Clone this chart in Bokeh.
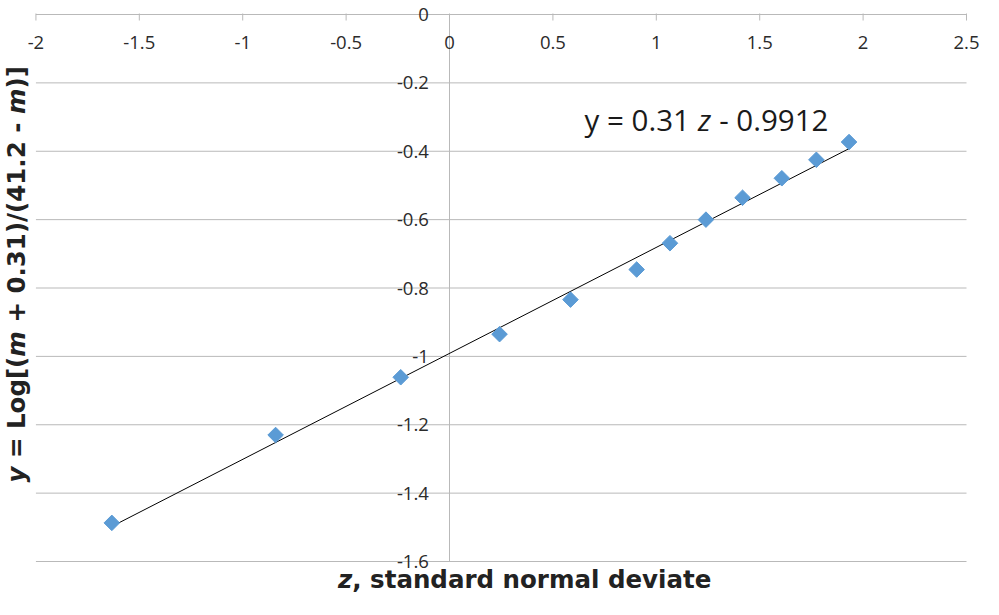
import math
from bokeh.plotting import figure
from bokeh.models import Range1d, Label
from bokeh.core.properties import value
from bokeh.embed import file_html
from bokeh.resources import INLINE

# ---------------- data ----------------
z_vals = [-1.633, -0.841, -0.236, 0.242, 0.585, 0.905, 1.066, 1.240, 1.417, 1.607, 1.774, 1.932]
y_vals = [-1.487, -1.230, -1.061, -0.935, -0.834, -0.746, -0.669, -0.600, -0.536, -0.479, -0.425, -0.373]

slope = 0.31
intercept = -0.9912

x_ticks = [-2, -1.5, -1, -0.5, 0, 0.5, 1, 1.5, 2, 2.5]
x_tick_labels = ["-2", "-1.5", "-1", "-0.5", "0", "0.5", "1", "1.5", "2", "2.5"]
y_ticks = [0, -0.2, -0.4, -0.6, -0.8, -1.0, -1.2, -1.4, -1.6]
y_tick_labels = ["0", "-0.2", "-0.4", "-0.6", "-0.8", "-1", "-1.2", "-1.4", "-1.6"]

eq_parts = ["y = 0.31", "z", "- 0.9912"]
x_title_parts = ["z", ", standard normal deviate"]
y_title_parts = ["y", "= Log[(", "m", "+ 0.31)/(41.2 -", "m", ")]"]

# ---------------- geometry ----------------
W, H = 983, 599
SX, SY = W / 999, H / 615          # reference pixels -> canvas pixels


def RX(rx):
    return rx * SX


def RY(ry):
    return ry * SY


XMIN_T, XMAX_T = -2.0, 2.5
YMIN_T, YMAX_T = -1.6, 0.0
F_LEFT, F_RIGHT = RX(36), 966.0     # canvas pixel of x=-2 and x=2.5
F_TOP, F_BOTTOM = 14.0, RY(576)      # canvas pixel of y=0 and y=-1.6
PX_X = (F_RIGHT - F_LEFT) / (XMAX_T - XMIN_T)
PX_Y = (F_BOTTOM - F_TOP) / (YMAX_T - YMIN_T)
X0 = XMIN_T - F_LEFT / PX_X
X1 = XMAX_T + (W - F_RIGHT) / PX_X
Y1 = YMAX_T + F_TOP / PX_Y
Y0 = YMIN_T - (H - F_BOTTOM) / PX_Y


def dx(fx):
    return X0 + fx / PX_X


def dy(fy):
    return Y1 - fy / PX_Y


p = figure(width=W, height=H, x_range=Range1d(X0, X1), y_range=Range1d(Y0, Y1),
           x_axis_location=None, y_axis_location=None, toolbar_location=None,
           output_backend="svg", min_border=0, outline_line_color=None,
           background_fill_color="white", border_fill_color="white")
p.grid.visible = False

GRID = "#b9b9b9"
TICK_COLOR = "#2b2b2b"
TICK_FS = "18.5px"

# horizontal gridlines
p.segment(x0=[XMIN_T] * len(y_ticks), x1=[XMAX_T] * len(y_ticks), y0=y_ticks, y1=y_ticks,
          line_color=GRID, line_width=1)
# vertical axis at x = 0
p.segment(x0=[0], x1=[0], y0=[YMIN_T], y1=[YMAX_T], line_color=GRID, line_width=1)
# x-axis tick marks (pointing down from the top axis line)
tick_len = 6 / PX_Y
p.segment(x0=x_ticks, x1=x_ticks, y0=[1 / PX_Y] * len(x_ticks), y1=[-tick_len] * len(x_ticks),
          line_color=GRID, line_width=1)

# x tick labels (below the top axis line)
p.text(x=x_ticks, y=[dy(F_TOP + 28)] * len(x_ticks), text=x_tick_labels,
       text_font=value("Open Sans"), text_font_size=TICK_FS, text_color=TICK_COLOR,
       text_align="center", text_baseline="middle")
# y tick labels (left of the x = 0 axis)
p.text(x=[-(RX(458) - RX(437)) / PX_X] * len(y_ticks), y=y_ticks, text=y_tick_labels,
       text_font=value("Open Sans"), text_font_size=TICK_FS, text_color=TICK_COLOR,
       text_align="right", text_baseline="middle")

# trend line
zl = [min(z_vals), max(z_vals)]
p.line(x=zl, y=[slope * v + intercept for v in zl], line_color="black", line_width=1)

# data points
p.scatter(x=z_vals, y=y_vals, marker="square", size=11, angle=math.pi / 4,
          fill_color="#5B9BD5", line_color="#5B9BD5")

# equation label (mixed styles)
EQ_FS = 29.5
z_c = RX(715.5)
mid = RY(122.5)
half_z = 0.47 * EQ_FS / 2
sp = 0.26 * EQ_FS
EQ_COLOR = "#1a1a1a"
p.add_layout(Label(x=dx(z_c - half_z - sp), y=dy(mid), text=eq_parts[0], text_font="Open Sans",
                   text_font_size=f"{EQ_FS}px", text_align="right", text_baseline="middle",
                   text_color=EQ_COLOR))
p.add_layout(Label(x=dx(z_c), y=dy(mid), text=eq_parts[1], text_font="Open Sans",
                   text_font_style="italic", text_font_size=f"{EQ_FS}px", text_align="center",
                   text_baseline="middle", text_color=EQ_COLOR))
p.add_layout(Label(x=dx(z_c + half_z + sp), y=dy(mid), text=eq_parts[2], text_font="Open Sans",
                   text_font_size=f"{EQ_FS}px", text_align="left", text_baseline="middle",
                   text_color=EQ_COLOR))

# x-axis title
TF = 24.5
TITLE_COLOR = "#222222"
xb = RX(343) + 0.582 * TF
xt_mid = RY(603) - 0.35 * TF
p.add_layout(Label(x=dx(xb), y=dy(xt_mid), text=x_title_parts[0], text_font="DejaVu Sans",
                   text_font_style="bold italic", text_font_size=f"{TF}px", text_align="right",
                   text_baseline="middle", text_color=TITLE_COLOR))
p.add_layout(Label(x=dx(xb), y=dy(xt_mid), text=x_title_parts[1], text_font="DejaVu Sans",
                   text_font_style="bold", text_font_size=f"{TF}px", text_align="left",
                   text_baseline="middle", text_color=TITLE_COLOR))

# y-axis title (rotated, mixed styles) - DejaVu Sans Bold advance widths (em)
space_em = 0.348
widths_em = [0.652, 4.142, 1.042, 8.168, 1.042, 0.916]
gaps_em = [space_em, 0.0, space_em, space_em, 0.0]
styles = ["bold italic", "bold", "bold italic", "bold", "bold italic", "bold"]
start_fy = RY(495)
mid_fx = 16.0
s = 0.0
for i, txt in enumerate(y_title_parts):
    p.add_layout(Label(x=dx(mid_fx), y=dy(start_fy - s), text=txt, angle=math.pi / 2,
                       text_font="DejaVu Sans", text_font_style=styles[i],
                       text_font_size=f"{TF}px", text_align="left",
                       text_baseline="middle", text_color=TITLE_COLOR))
    s += widths_em[i] * TF
    if i < len(gaps_em):
        s += gaps_em[i] * TF

open("out.html", "w").write(file_html(p, INLINE))
